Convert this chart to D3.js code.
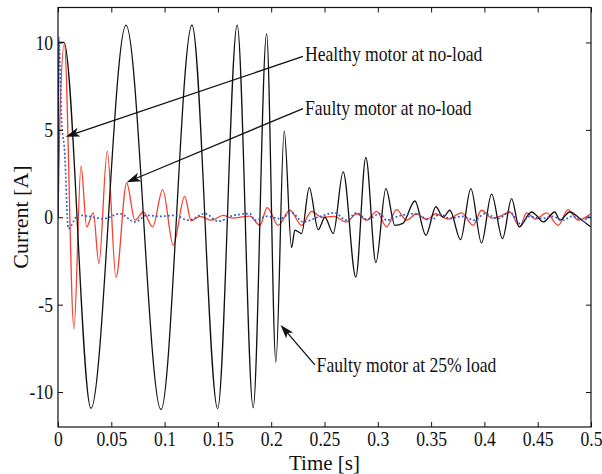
<!DOCTYPE html>
<html><head><meta charset="utf-8">
<script src="https://cdn.jsdelivr.net/npm/d3@7"></script>
<style>
body{margin:0;background:#fff}
svg{display:block}
text{font-family:"Liberation Serif","Times New Roman",serif;fill:#111}
</style>
</head><body>
<svg id="c" width="602" height="474"></svg>
<script>
// ---- data ----
const xTicks=[0,0.05,0.1,0.15,0.2,0.25,0.3,0.35,0.4,0.45,0.5];
const xTickLabels=["0","0.05","0.1","0.15","0.2","0.25","0.3","0.35","0.4","0.45","0.5"];
const yTicks=[-10,-5,0,5,10];
const yTickLabels=["-10","-5","0","5","10"];

// Faulty motor at 25% load (black)
const loadT=[0,0.00075,0.0056,0.0309,0.0638,0.0966,0.1257,0.1498,0.1681,0.1831,0.1957,0.2044,0.2122,0.2191,0.2222,0.2285,0.2357,0.2441,0.2504,0.2582,0.2675,0.2794,0.2888,0.2982,0.3076,0.3160,0.3235,0.3348,0.3451,0.3545,0.3613,0.3676,0.3776,0.3873,0.3973,0.4067,0.4170,0.4255,0.4326,0.4442,0.4489,0.4551,0.4661,0.4707,0.4801,0.4895,0.4995];
const loadV=[0,10,10,-10.93,10.99,-11,11,-10.95,11,-10.9,10.5,-8.28,4.94,-1.74,-0.74,-0.93,1.7,-0.71,0,-0.93,2.6,-3.42,3.42,-2.6,1.64,-0.46,-0.35,0.93,-1.03,0.6,0,0.4,-1.28,1.64,-1.47,1.32,-1.22,1.07,-0.55,0.3,0.1,-0.27,0.3,-0.17,0.3,-0.07,-0.55];

// Faulty motor at no-load (red)
const faultyT=[0,0.0019,0.0059,0.0150,0.0216,0.0269,0.0331,0.0384,0.0462,0.0544,0.0644,0.0722,0.0800,0.0888,0.0982,0.1081,0.1188,0.1250,0.1332,0.1441,0.1550,0.1632,0.1800,0.1894,0.1963,0.2066,0.2176,0.2285,0.2379,0.2473,0.2588,0.2707,0.2801,0.2895,0.2989,0.3082,0.3176,0.3270,0.3364,0.3457,0.3545,0.3657,0.3786,0.3894,0.3973,0.4070,0.4145,0.4239,0.4333,0.4395,0.4482,0.4583,0.4692,0.4785,0.4879,0.4989];
const faultyV=[0,6,9.9,-6.37,2.94,-0.55,0.27,-2.65,3.78,-3.45,1.96,-0.17,0.3,-0.55,1.58,-1.6,1.2,-0.2,0.05,-0.17,0.11,-0.05,0.06,-0.46,0.55,-0.46,0.4,-0.46,0.34,0,0.05,-0.27,0.2,-0.17,0.34,-0.55,0.44,-0.17,0.2,-0.13,0.2,-0.1,0.25,-0.46,0.4,-0.05,0.05,0.3,-0.55,0.25,-0.1,0.25,-0.46,0.44,-0.17,0.17];

// Healthy motor at no-load (blue dotted)
const healthyT=[0,0.0006,0.0035,0.0062,0.0097,0.0190,0.0284,0.0425,0.0581,0.0722,0.0832,0.0956,0.1097,0.1222,0.1378,0.1503,0.1644,0.1800,0.1847,0.1957,0.2082,0.2191,0.2300,0.2438,0.2597,0.2707,0.2801,0.2900,0.3020,0.3082,0.3188,0.3332,0.3504,0.3582,0.3676,0.3788,0.3910,0.4004,0.4129,0.4239,0.4333,0.4426,0.4536,0.4632,0.4738,0.4820,0.4926,0.5000];
const healthyV=[0,10.3,5.4,3.8,-0.65,0.12,0.06,-0.08,0.2,-0.27,0.11,0.05,0.11,-0.17,0.21,-0.23,0.1,0.21,-0.17,0.05,-0.08,0.25,-0.27,0,0.25,-0.17,0.25,-0.13,0.2,-0.17,0.05,0.2,-0.17,0.21,-0.08,0.05,-0.17,0.21,-0.08,0.3,-0.36,0.05,-0.08,0.05,-0.17,0.05,-0.17,0.21];

// annotations (data coordinates)
const annTip=[[0.0072,4.61],[0.0644,2.0],[0.2088,-6.16]];
const annTail=[[0.2298,9.2],[0.2298,6.22],[0.2410,-8.45]];
const annText=[[0.2317,8.93],[0.2317,5.85],[0.2426,-8.84]];
const annLabels=["Healthy motor at no-load","Faulty motor at no-load","Faulty motor at 25% load"];

// ---- drawing ----
const SX=0.88, FS=20, FONT='"Liberation Serif","Times New Roman",serif';
const svg=d3.select("#c");
const L=58,R=591,T=7.5,B=427;
const x=d3.scaleLinear().domain([0,0.5]).range([L,R]);
const y=d3.scaleLinear().domain([-12,12]).range([B,T]);

svg.append("defs").append("clipPath").attr("id","clip")
  .append("rect").attr("x",L).attr("y",T).attr("width",R-L).attr("height",B-T);

const plot=svg.append("g").attr("clip-path","url(#clip)");
const line=d3.line().x(d=>x(d[0])).y(d=>y(d[1])).curve(d3.curveMonotoneX);
const zip=(a,b)=>a.map((t,i)=>[t,b[i]]);

plot.append("path").datum(zip(faultyT,faultyV)).attr("d",line)
  .attr("fill","none").attr("stroke","#f5402f").attr("stroke-width",1.3);
plot.append("path").datum(zip(loadT,loadV)).attr("d",line)
  .attr("fill","none").attr("stroke","#111").attr("stroke-width",1.3);
plot.append("path").datum(zip(healthyT,healthyV)).attr("d",line)
  .attr("fill","none").attr("stroke","#2a5bd7").attr("stroke-width",1.7)
  .attr("stroke-dasharray","1.8,2.2");

// axes
const fmtX=(d,i)=>xTickLabels[i], fmtY=(d,i)=>yTickLabels[i];
const gB=svg.append("g").attr("transform",`translate(0,${B})`)
  .call(d3.axisBottom(x).tickValues(xTicks).tickFormat(fmtX).tickSizeInner(-5).tickSizeOuter(0).tickPadding(4.5));
const gL=svg.append("g").attr("transform",`translate(${L},0)`)
  .call(d3.axisLeft(y).tickValues(yTicks).tickFormat(fmtY).tickSizeInner(-5).tickSizeOuter(0).tickPadding(5.7));
const gT=svg.append("g").attr("transform",`translate(0,${T})`)
  .call(d3.axisTop(x).tickValues(xTicks).tickFormat("").tickSizeInner(-5).tickSizeOuter(0));
const gR=svg.append("g").attr("transform",`translate(${R},0)`)
  .call(d3.axisRight(y).tickValues(yTicks).tickFormat("").tickSizeInner(-5).tickSizeOuter(0));
[gB,gL,gT,gR].forEach(g=>{
  g.attr("font-family",FONT);
  g.select(".domain").remove();
  g.selectAll("line").attr("stroke","#111").attr("stroke-width",1);
  g.selectAll("text").attr("font-size",FS).style("font-family",FONT)
    .attr("fill","#111").attr("transform",`scale(${SX},1)`);
});
gL.selectAll("text").attr("dy","0.33em");
svg.append("rect").attr("x",L).attr("y",T).attr("width",R-L).attr("height",B-T)
  .attr("fill","none").attr("stroke","#111").attr("stroke-width",1.2);

// axis titles
svg.append("text").attr("transform",`translate(324.5,470)`)
  .attr("text-anchor","middle").attr("font-size",21).style("font-family",FONT).text("Time [s]");
svg.append("text").attr("transform",`translate(28,217) rotate(-90)`)
  .attr("text-anchor","middle").attr("font-size",22).style("font-family",FONT).text("Current [A]");

// annotations
const ann=svg.append("g");
annLabels.forEach((lab,i)=>{
  const tx=x(annTip[i][0]), ty=y(annTip[i][1]);
  const sx=x(annTail[i][0]), sy=y(annTail[i][1]);
  const ang=Math.atan2(sy-ty,sx-tx);
  const Lh=14, W=4.6, N=10.5;
  const ux=Math.cos(ang), uy=Math.sin(ang), px=-uy, py=ux;
  ann.append("line").attr("x1",sx).attr("y1",sy).attr("x2",tx+ux*N).attr("y2",ty+uy*N)
    .attr("stroke","#111").attr("stroke-width",1.3);
  const pts=[[tx,ty],[tx+ux*Lh+px*W,ty+uy*Lh+py*W],[tx+ux*N,ty+uy*N],[tx+ux*Lh-px*W,ty+uy*Lh-py*W]];
  ann.append("path").attr("d","M"+pts.map(p=>p.join(",")).join("L")+"Z").attr("fill","#111");
  ann.append("text").attr("transform",`translate(${x(annText[i][0])},${y(annText[i][1])}) scale(${SX},1)`)
    .attr("font-size",FS).style("font-family",FONT).text(lab);
});
</script>
</body></html>
